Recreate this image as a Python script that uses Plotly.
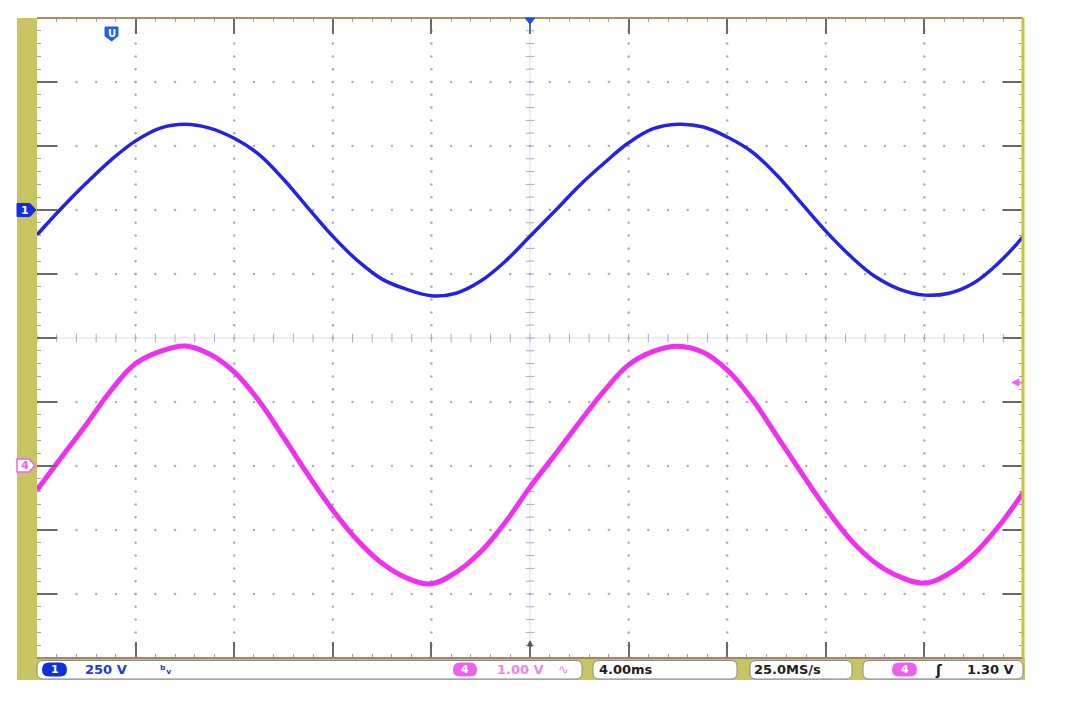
import numpy as np
import plotly.graph_objects as go

time_ms = list(range(-20, 21))          # 4.00 ms/div, 10 divisions
# channel 1 (250 V/div), in screen divisions
ch1_div = [1.61, 2.03, 2.42, 2.78, 3.08, 3.28, 3.34, 3.28, 3.12, 2.87,
           2.48, 2.03, 1.59, 1.21, 0.92, 0.76, 0.66, 0.70, 0.89, 1.20,
           1.59, 1.98, 2.38, 2.73, 3.05, 3.27, 3.34, 3.30, 3.14, 2.91,
           2.55, 2.11, 1.67, 1.28, 0.96, 0.76, 0.67, 0.70, 0.86, 1.17, 1.58]
# channel 4 (1.00 V/div), in screen divisions
ch4_div = [-2.375, -1.86, -1.35, -0.82, -0.40, -0.21, -0.125, -0.25, -0.53, -0.98,
           -1.55, -2.14, -2.69, -3.16, -3.52, -3.75, -3.84, -3.66, -3.34, -2.88,
           -2.33, -1.83, -1.32, -0.83, -0.42, -0.21, -0.13, -0.22, -0.50, -0.95,
           -1.52, -2.10, -2.66, -3.15, -3.51, -3.73, -3.83, -3.68, -3.38, -2.95, -2.42]

ch1_label = "250 V"
ch4_label = "1.00 V"
timebase_label = "4.00ms"
rate_label = "25.0MS/s"
trigger_label = "1.30 V"

# ---------------- geometry helpers ----------------
W, H = 1070, 711
OFF = 8                                  # page body margin of the html page
L, R, T, B = 37, 1023, 18, 658           # plot area on screen
X_RANGE = [-20, 20]
Y_RANGE = [-5, 5]

def px(x):
    return (x - L) / (R - L)

def py(y):
    return (B - y) / (B - T)

def poly(points):
    return "M " + " L ".join(f"{px(x):.5f},{py(y):.5f}" for x, y in points) + " Z"

def rrect(x0, y0, x1, y1, r):
    P = lambda x, y: f"{px(x):.5f},{py(y):.5f}"
    return (f"M {P(x0 + r, y0)} L {P(x1 - r, y0)} Q {P(x1, y0)} {P(x1, y0 + r)} "
            f"L {P(x1, y1 - r)} Q {P(x1, y1)} {P(x1 - r, y1)} L {P(x0 + r, y1)} "
            f"Q {P(x0, y1)} {P(x0, y1 - r)} L {P(x0, y0 + r)} Q {P(x0, y0)} {P(x0 + r, y0)} Z")

BLUE = "#2323e6"
PINK = "#f030f0"
OLIVE = "#c9c462"

fig = go.Figure()

# ---------------- graticule ----------------
gx, gy = [], []
for xd in np.arange(-16, 17, 4):
    if xd == 0:
        continue
    for yy in np.arange(-5, 5.001, 0.2):
        gx.append(xd); gy.append(yy)
for yd in range(-4, 5):
    if yd == 0:
        continue
    for xx in np.arange(-20, 20.001, 0.8):
        gx.append(xx); gy.append(yd)
fig.add_trace(go.Scatter(x=gx, y=gy, mode="markers", hoverinfo="skip",
                         marker=dict(size=2.5, color="#a8a8cc", line=dict(width=0)),
                         showlegend=False))

# center cross ticks
cy = list(np.arange(-5, 5.001, 0.2))
fig.add_trace(go.Scatter(x=[0] * len(cy), y=cy, mode="markers", hoverinfo="skip",
                         marker=dict(symbol="line-ew", size=6,
                                     line=dict(width=1, color="#a8a8cc")),
                         showlegend=False))
cx = list(np.arange(-20, 20.001, 0.8))
fig.add_trace(go.Scatter(x=cx, y=[0] * len(cx), mode="markers", hoverinfo="skip",
                         marker=dict(symbol="line-ns", size=6,
                                     line=dict(width=1, color="#a8a8cc")),
                         showlegend=False))

# ---------------- waveforms ----------------
fig.add_trace(go.Scatter(x=time_ms, y=ch1_div, mode="lines",
                         line=dict(color=BLUE, width=3.5, shape="spline", smoothing=1.1),
                         showlegend=False, name="CH1"))
fig.add_trace(go.Scatter(x=time_ms, y=ch4_div, mode="lines",
                         line=dict(color=PINK, width=5, shape="spline", smoothing=1.1),
                         showlegend=False, name="CH4"))

shapes = []
# center lines
shapes.append(dict(type="line", xref="x", yref="y", x0=0, x1=0, y0=-5, y1=5,
                   line=dict(color="#dcdcea", width=1), layer="below"))
shapes.append(dict(type="line", xref="x", yref="y", x0=-20, x1=20, y0=0, y1=0,
                   line=dict(color="#dcdcea", width=1), layer="below"))

# left olive strip and status band
shapes.append(dict(type="rect", xref="paper", yref="paper", x0=px(17), x1=px(37),
                   y0=py(680), y1=py(18), fillcolor=OLIVE, line=dict(width=0)))
shapes.append(dict(type="rect", xref="paper", yref="paper", x0=px(17), x1=px(1025),
                   y0=py(680), y1=py(658), fillcolor=OLIVE, line=dict(width=0)))
# top / bottom / right borders
shapes.append(dict(type="line", xref="paper", yref="paper", x0=0, x1=1, y0=1, y1=1,
                   line=dict(color="#b48c5a", width=2)))
shapes.append(dict(type="line", xref="paper", yref="paper", x0=0, x1=1, y0=0, y1=0,
                   line=dict(color="#a88656", width=2)))
shapes.append(dict(type="line", xref="paper", yref="paper", x0=1, x1=1, y0=0, y1=1,
                   line=dict(color="#cbc23a", width=3)))

# status boxes
for (a, b) in [(37, 582), (593, 737), (750, 852), (863, 1023)]:
    shapes.append(dict(type="path", xref="paper", yref="paper", path=rrect(a, 660.5, b, 679, 6),
                       fillcolor="white", line=dict(color="#8a8a8a", width=1)))
# pills
shapes.append(dict(type="path", xref="paper", yref="paper", path=rrect(42, 662.5, 67, 676.5, 7),
                   fillcolor="#1030e0", line=dict(width=0)))
shapes.append(dict(type="path", xref="paper", yref="paper", path=rrect(453, 662.5, 477, 676.5, 7),
                   fillcolor="#f060f0", line=dict(width=0)))
shapes.append(dict(type="path", xref="paper", yref="paper", path=rrect(892, 662.5, 917, 676.5, 7),
                   fillcolor="#f060f0", line=dict(width=0)))

# channel ground markers
shapes.append(dict(type="path", xref="paper", yref="paper",
                   path=poly([(17, 203.5), (30, 203.5), (36, 210), (30, 216.5), (17, 216.5)]),
                   fillcolor="#1030e0", line=dict(color="#1030e0", width=1)))
shapes.append(dict(type="path", xref="paper", yref="paper",
                   path=poly([(17, 459), (29, 459), (35, 465.5), (29, 472), (17, 472)]),
                   fillcolor="white", line=dict(color="#f060f0", width=1.5)))
# trigger position marker (top)
shapes.append(dict(type="path", xref="paper", yref="paper",
                   path=poly([(105, 27), (118, 27), (118, 36), (111.5, 41), (105, 36)]),
                   fillcolor="#1a62f0", line=dict(color="#1a62f0", width=1)))
shapes.append(dict(type="path", xref="paper", yref="paper",
                   path=poly([(525, 18), (535, 18), (530, 24)]),
                   fillcolor="#1a50e0", line=dict(color="#1a50e0", width=1)))
# bottom center arrow
shapes.append(dict(type="path", xref="paper", yref="paper",
                   path=poly([(527.5, 646), (532.5, 646), (530, 641)]),
                   fillcolor="#505050", line=dict(color="#505050", width=1)))
# trigger level marker (right)
shapes.append(dict(type="path", xref="paper", yref="paper",
                   path=poly([(1012, 382.5), (1019, 379), (1019, 386)]),
                   fillcolor="#f060f0", line=dict(color="#f060f0", width=1)))
shapes.append(dict(type="line", xref="paper", yref="paper", x0=px(1017), x1=px(1022),
                   y0=py(382.5), y1=py(382.5), line=dict(color="#f060f0", width=1.5)))

annotations = []
def txt(x, y, s, color, size=12, bold=True, anchor="left", family="DejaVu Sans"):
    annotations.append(dict(xref="paper", yref="paper", x=px(x), y=py(y),
                            text=(f"<b>{s}</b>" if bold else s),
                            showarrow=False, xanchor=anchor, yanchor="middle",
                            font=dict(family=family, size=size, color=color)))

txt(25, 210, "1", "white", size=11, anchor="center")
txt(25, 465.5, "4", "#f060f0", size=11, anchor="center")
txt(111.5, 33.5, "U", "white", size=10, anchor="center")
txt(54.5, 669.5, "1", "white", size=11, anchor="center")
txt(83, 669.5, ch1_label, "#1a3ae8", size=13)
txt(158, 670, "ᵇᵥ", "#1a3ae8", size=12)
txt(465, 669.5, "4", "white", size=11, anchor="center")
txt(495, 669.5, ch4_label, "#f080f0", size=13)
txt(556, 669.5, "∿", "#f080f0", size=13, bold=False)
txt(597, 669.5, timebase_label, "#202020", size=13)
txt(752, 669.5, rate_label, "#202020", size=13)
txt(904.5, 669.5, "4", "white", size=11, anchor="center")
txt(933, 669.5, "ʃ", "#202020", size=14)
txt(965, 669.5, trigger_label, "#202020", size=13)

fig.update_layout(
    width=W, height=H, autosize=False,
    margin=dict(l=L - OFF, r=W - (R - OFF), t=T - OFF, b=H - (B - OFF), pad=0),
    paper_bgcolor="white", plot_bgcolor="white",
    shapes=shapes, annotations=annotations,
    showlegend=False,
    xaxis=dict(range=X_RANGE, showgrid=False, zeroline=False, showticklabels=False,
               showline=False, ticks="inside", tick0=0, dtick=4, ticklen=16,
               tickwidth=2, tickcolor="#6a6a6a", mirror="ticks", fixedrange=True,
               minor=dict(ticks="inside", tick0=0, dtick=0.8, ticklen=4,
                          tickwidth=1, tickcolor="#a0a0c0", showgrid=False)),
    yaxis=dict(range=Y_RANGE, showgrid=False, zeroline=False, showticklabels=False,
               showline=False, ticks="inside", tick0=0, dtick=1, ticklen=20,
               tickwidth=2, tickcolor="#6a6a6a", mirror="ticks", fixedrange=True,
               minor=dict(ticks="inside", tick0=0, dtick=0.2, ticklen=4,
                          tickwidth=1, tickcolor="#a0a0c0", showgrid=False)),
)

fig.write_html("out.html")
